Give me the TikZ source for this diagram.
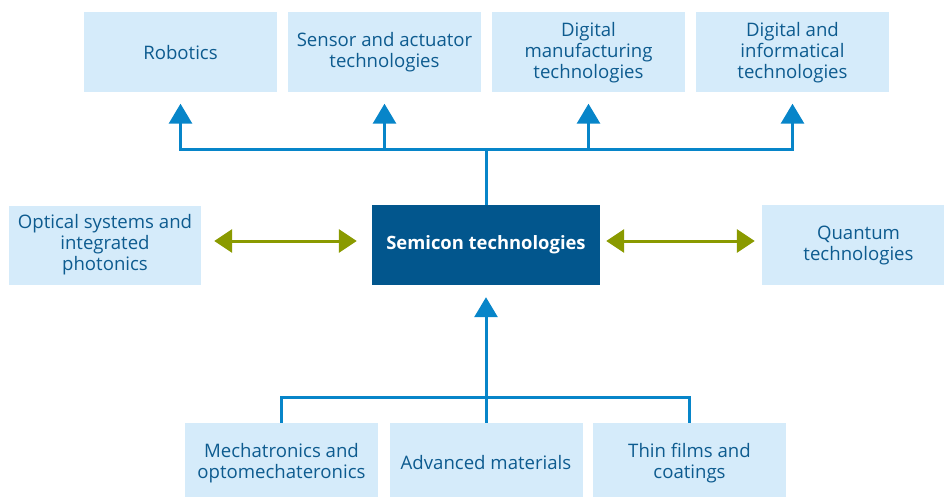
\documentclass[tikz,border=0pt]{standalone}
\usepackage{fontspec}
\setmainfont{Open Sans}
\usetikzlibrary{arrows.meta}
\definecolor{boxfill}{HTML}{D5EBFA}
\definecolor{txt}{HTML}{0D5B8F}
\definecolor{lineblue}{HTML}{0785C9}
\definecolor{olive}{HTML}{8A9A00}
\definecolor{core}{HTML}{02568D}
\begin{document}
\begin{tikzpicture}[x=1pt,y=-1pt,
  box/.style={fill=boxfill, minimum width=193pt, minimum height=80pt, inner sep=0pt,
    align=center, text=txt, font=\fontsize{18.6}{21}\selectfont},
  corebox/.style={fill=core, minimum width=228pt, minimum height=80pt, inner sep=0pt,
    align=center, text=white, font=\fontsize{18.4}{21}\selectfont\bfseries},
  bline/.style={draw=lineblue, line width=3pt},
  barrow/.style={bline, -{Triangle[width=23pt,length=20pt]}},
  garrow/.style={draw=olive, line width=3pt, {Triangle[width=23pt,length=18pt]}-{Triangle[width=23pt,length=18pt]}}
]
\useasboundingbox (0,0) rectangle (944,497);
% top row
\node[box] (rob) at (180.5,52.5) {Robotics};
\node[box] (sen) at (384.5,52.5) {Sensor and actuator\\technologies};
\node[box] (dig) at (588.5,52.5) {Digital\\manufacturing\\technologies};
\node[box] (inf) at (792.5,52.5) {Digital and\\informatical\\technologies};
% middle row
\node[box, minimum width=192pt, minimum height=79pt] (opt) at (105,245) {Optical systems and\\integrated\\photonics};
\node[corebox] (sem) at (486,245) {Semicon technologies};
\node[box] (qua) at (858.5,245) {Quantum\\technologies};
% bottom row
\node[box] (mec) at (281.5,463) {Mechatronics and\\optomechateronics};
\node[box] (adv) at (486,463) {Advanced materials};
\node[box] (thi) at (689.5,463) {Thin films and\\coatings};
% junctions
\coordinate (tj) at (486,150);
\coordinate (bj) at (486,397);
% top connectors
\draw[bline] (sem.north) -- (tj);
\draw[barrow, shorten >=11pt] (tj) -| (rob.south);
\draw[barrow, shorten >=11pt] (tj) -| (sen.south);
\draw[barrow, shorten >=11pt] (tj) -| (dig.south);
\draw[barrow, shorten >=11pt] (tj) -| (inf.south);
% bottom connectors
\draw[bline] (bj) -| (mec.north);
\draw[bline] (bj) -- (adv.north);
\draw[bline] (bj) -| (thi.north);
\draw[barrow, shorten >=12pt] (bj) -- (sem.south);
% side arrows
\draw[garrow, shorten <=13pt, shorten >=15pt] ([yshift=4pt]opt.east) -- ([yshift=4pt]sem.west);
\draw[garrow, shorten <=6pt, shorten >=7pt] ([yshift=4pt]sem.east) -- ([yshift=4pt]qua.west);
\end{tikzpicture}
\end{document}
